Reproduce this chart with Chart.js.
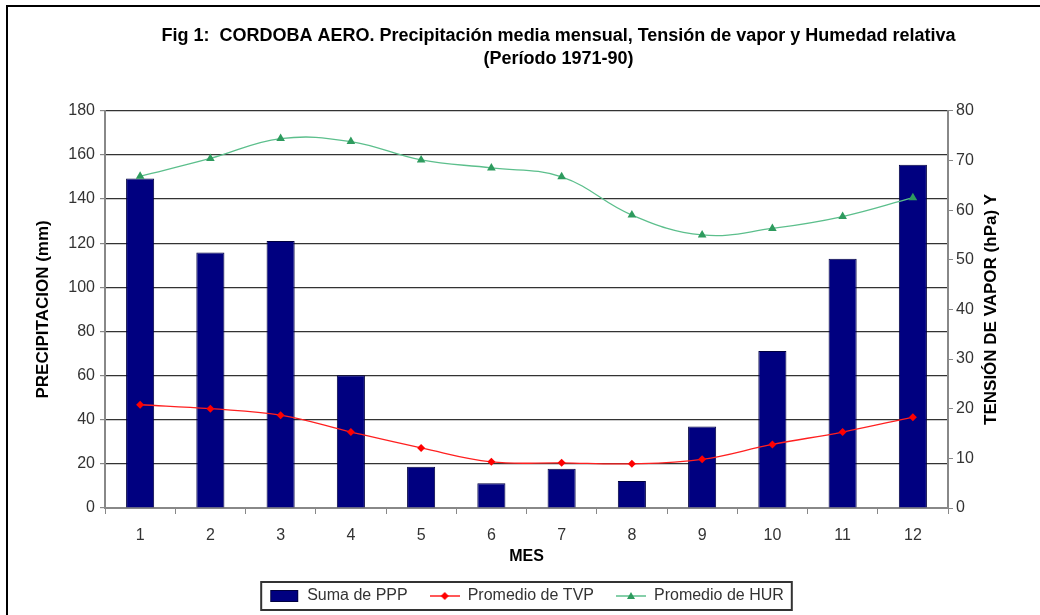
<!DOCTYPE html>
<html>
<head>
<meta charset="utf-8">
<script src="https://cdn.jsdelivr.net/npm/chart.js@4.4.1/dist/chart.umd.min.js"></script>
<style>
  html, body { margin: 0; padding: 0; background: #fff; overflow: hidden; }
  #marco { width: 1117px; height: 615px; position: relative; }
</style>
</head>
<body>
<div id="marco"><canvas id="grafico" width="1117" height="615"></canvas></div>
<script>
// datos (periodo 1971-90)
const meses = ['1', '2', '3', '4', '5', '6', '7', '8', '9', '10', '11', '12'];
const sumaPPP = [149.3, 115.8, 121.0, 60.2, 18.7, 11.2, 17.8, 12.2, 36.9, 71.2, 113.0, 155.5];
const promedioTVP = [20.8, 20.0, 18.7, 15.3, 12.1, 9.3, 9.1, 8.9, 9.8, 12.8, 15.3, 18.3];
const promedioHUR = [66.8, 70.4, 74.4, 73.8, 70.1, 68.5, 66.7, 59.0, 55.0, 56.3, 58.7, 62.5];
const tituloGrafico = ['Fig 1:  CORDOBA AERO. Precipitación media mensual, Tensión de vapor y Humedad relativa', '(Período 1971-90)'];

const fuente = "'Liberation Sans', Arial, sans-serif";

// iconos de la leyenda (linea + marcador, o caja de la barra)
function crearIcono(tipo, color, colorMarca) {
  const c = document.createElement('canvas');
  c.width = 30; c.height = 14;
  const g = c.getContext('2d');
  if (tipo === 'barra') {
    g.fillStyle = color;
    g.fillRect(1, 1, 28, 12);
    g.strokeStyle = '#000040';
    g.strokeRect(1.5, 1.5, 27, 11);
    return c;
  }
  g.strokeStyle = color;
  g.lineWidth = 1.5;
  g.beginPath(); g.moveTo(0, 7); g.lineTo(30, 7); g.stroke();
  g.fillStyle = colorMarca;
  g.beginPath();
  if (tipo === 'rombo') {
    g.moveTo(15, 3); g.lineTo(19, 7); g.lineTo(15, 11); g.lineTo(11, 7);
  } else {
    g.moveTo(15, 3); g.lineTo(19, 10); g.lineTo(11, 10);
  }
  g.closePath(); g.fill();
  return c;
}

const iconoPPP = crearIcono('barra', '#000080');
const iconoTVP = crearIcono('rombo', '#ff2020', '#ff0000');
const iconoHUR = crearIcono('triangulo', '#5cbf8c', '#2e9b5e');

const pluginMarco = {
  id: 'marco',
  beforeDraw(chart) {
    const ctx = chart.ctx;
    ctx.save();
    ctx.fillStyle = '#fff';
    ctx.fillRect(0, 0, chart.width, chart.height);
    ctx.strokeStyle = '#000';
    ctx.lineWidth = 2;
    ctx.beginPath();
    ctx.moveTo(7, chart.height + 5);
    ctx.lineTo(7, 6);
    ctx.lineTo(chart.width + 5, 6);
    ctx.stroke();
    ctx.restore();
  },
  afterDraw(chart) {
    const ctx = chart.ctx;
    const area = chart.chartArea;
    // titulo del eje derecho, leido de abajo hacia arriba
    ctx.save();
    ctx.translate(991, (area.top + area.bottom) / 2);
    ctx.rotate(-Math.PI / 2);
    ctx.font = 'bold 17px ' + fuente;
    ctx.fillStyle = '#000';
    ctx.textAlign = 'center';
    ctx.textBaseline = 'middle';
    ctx.fillText('TENSIÓN DE VAPOR (hPa) Y', 0, 0);
    ctx.restore();

    // recuadro de la leyenda
    const cajas = chart.legend.legendHitBoxes;
    if (cajas && cajas.length) {
      let izq = Infinity, der = -Infinity, arriba = Infinity, abajo = -Infinity;
      cajas.forEach(b => {
        izq = Math.min(izq, b.left);
        der = Math.max(der, b.left + b.width);
        arriba = Math.min(arriba, b.top);
        abajo = Math.max(abajo, b.top + b.height);
      });
      ctx.save();
      ctx.strokeStyle = '#333';
      ctx.lineWidth = 2;
      ctx.strokeRect(izq - 8, arriba - 6, der - izq + 16, abajo - arriba + 12);
      ctx.restore();
    }
  }
};

const ctx = document.getElementById('grafico').getContext('2d');
new Chart(ctx, {
  type: 'bar',
  data: {
    labels: meses,
    datasets: [
      {
        label: 'Suma de PPP',
        data: sumaPPP,
        yAxisID: 'y',
        backgroundColor: '#000080',
        borderColor: '#000040',
        borderWidth: 1,
        categoryPercentage: 1,
        barPercentage: 0.4,
        pointStyle: iconoPPP,
        order: 3
      },
      {
        type: 'line',
        label: 'Promedio de TVP',
        data: promedioTVP,
        yAxisID: 'y1',
        borderColor: '#ff2020',
        borderWidth: 1.3,
        backgroundColor: '#ff0000',
        pointStyle: 'rectRot',
        pointRadius: 4,
        pointBorderWidth: 0,
        tension: 0.4,
        order: 1
      },
      {
        type: 'line',
        label: 'Promedio de HUR',
        data: promedioHUR,
        yAxisID: 'y1',
        borderColor: '#5cbf8c',
        borderWidth: 1.3,
        backgroundColor: '#2e9b5e',
        pointStyle: 'triangle',
        pointRadius: 5,
        pointBorderWidth: 0,
        tension: 0.4,
        order: 2
      }
    ]
  },
  options: {
    responsive: false,
    animation: false,
    devicePixelRatio: 1,
    layout: { padding: { left: 0, right: 0, top: 0, bottom: 1 } },
    plugins: {
      tooltip: { enabled: false },
      title: {
        display: true,
        text: tituloGrafico,
        color: '#000',
        font: { family: fuente, size: 18, weight: 'bold', lineHeight: 1.3 },
        padding: { top: 24, bottom: 40 }
      },
      legend: {
        position: 'bottom',
        fullSize: false,
        labels: {
          usePointStyle: true,
          pointStyleWidth: 30,
          padding: 22,
          color: '#333',
          font: { family: fuente, size: 16 },
          sort: (a, b) => a.datasetIndex - b.datasetIndex,
          generateLabels(chart) {
            const iconos = [iconoPPP, iconoTVP, iconoHUR];
            return chart.data.datasets.map((ds, i) => ({
              text: ds.label,
              pointStyle: iconos[i],
              fillStyle: 'transparent',
              strokeStyle: 'transparent',
              lineWidth: 0,
              fontColor: '#333',
              datasetIndex: i,
              hidden: false
            }));
          }
        }
      }
    },
    scales: {
      x: {
        grid: { offset: true, drawOnChartArea: false, drawTicks: true, tickLength: 6, color: '#888' },
        border: { color: '#888', width: 2 },
        ticks: { color: '#333', padding: 12, font: { family: fuente, size: 16 } },
        title: {
          display: true,
          text: 'MES',
          color: '#000',
          font: { family: fuente, size: 16, weight: 'bold' },
          padding: { top: 2, bottom: 0 }
        },
        afterFit(scale) { scale.height = 58; }
      },
      y: {
        position: 'left',
        min: 0,
        max: 180,
        ticks: { stepSize: 20, color: '#333', padding: 5, font: { family: fuente, size: 16 } },
        grid: { color: '#333', lineWidth: 1.2, tickColor: '#888', tickLength: 5 },
        border: { color: '#888', width: 2 },
        title: {
          display: true,
          text: 'PRECIPITACION (mm)',
          color: '#000',
          font: { family: fuente, size: 17, weight: 'bold' },
          padding: { top: 33, bottom: 0 }
        },
        afterFit(scale) { scale.width = 105; }
      },
      y1: {
        position: 'right',
        min: 0,
        max: 80,
        ticks: { stepSize: 10, color: '#333', padding: 3, font: { family: fuente, size: 16 } },
        grid: { drawOnChartArea: false, color: '#888', tickLength: 5 },
        border: { color: '#888', width: 2 },
        afterFit(scale) { scale.width = 1117 - 948; }
      }
    }
  },
  plugins: [pluginMarco]
});
</script>
</body>
</html>
